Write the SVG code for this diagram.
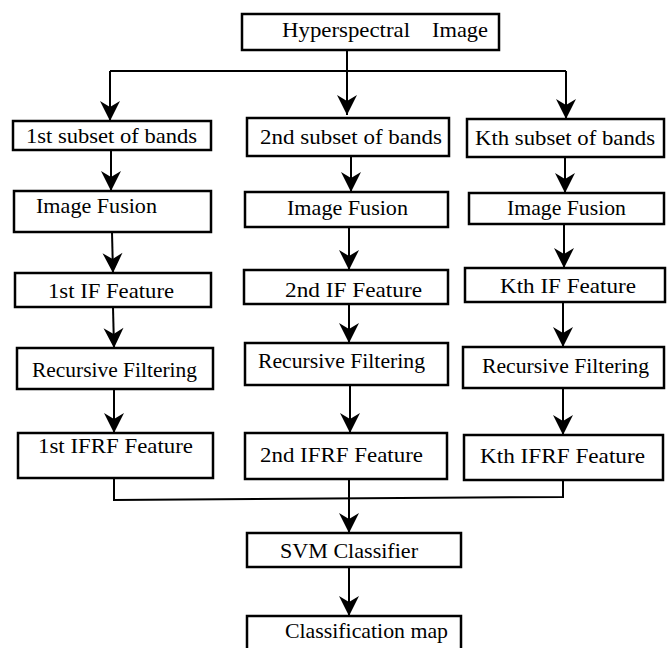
<svg xmlns="http://www.w3.org/2000/svg" width="670" height="648" viewBox="0 0 670 648">
<style>
.box{fill:#fff;stroke:#000;stroke-width:2.5}
.lbl{font-family:'Liberation Serif','Times New Roman',serif;font-size:22px;fill:#000}
.ln{fill:none;stroke:#000;stroke-width:2}
</style>
<defs>
<marker id="ah" viewBox="-21 -11 22 22" markerWidth="22" markerHeight="22" refX="0" refY="0" markerUnits="userSpaceOnUse" orient="auto">
<path d="M0,0 L-20,-10 L-14,0 L-20,10 Z" fill="#000"/>
</marker>
</defs>
<rect width="670" height="648" fill="#fff"/>
<g id="connectors">
<path class="ln" d="M347,50 V115" marker-end="url(#ah)"/>
<path class="ln" d="M110,71 H566"/>
<path class="ln" d="M110,71 V121" marker-end="url(#ah)"/>
<path class="ln" d="M566,71 V119" marker-end="url(#ah)"/>
<path class="ln" d="M111,150 V191" marker-end="url(#ah)"/>
<path class="ln" d="M112,232 L113,273" marker-end="url(#ah)"/>
<path class="ln" d="M113,307 L114,348" marker-end="url(#ah)"/>
<path class="ln" d="M114,389 V433" marker-end="url(#ah)"/>
<path class="ln" d="M351,156 V192" marker-end="url(#ah)"/>
<path class="ln" d="M349,227 V270" marker-end="url(#ah)"/>
<path class="ln" d="M349,304 V343" marker-end="url(#ah)"/>
<path class="ln" d="M350,385 V433" marker-end="url(#ah)"/>
<path class="ln" d="M565,157 V193" marker-end="url(#ah)"/>
<path class="ln" d="M564,224 V268" marker-end="url(#ah)"/>
<path class="ln" d="M563,302 V347" marker-end="url(#ah)"/>
<path class="ln" d="M563,388 V435" marker-end="url(#ah)"/>
<path class="ln" d="M114,478 V500 L563,497 V480"/>
<path class="ln" d="M349,479 V533" marker-end="url(#ah)"/>
<path class="ln" d="M349,567 V616" marker-end="url(#ah)"/>
</g>
<g id="hsi"><rect class="box" x="242" y="14" width="257" height="36"/><text class="lbl" x="282" y="37"><tspan textLength="128" lengthAdjust="spacingAndGlyphs">Hyperspectral</tspan> <tspan x="432" textLength="56" lengthAdjust="spacingAndGlyphs">Image</tspan></text></g>
<g id="sub1"><rect class="box" x="13" y="121" width="198" height="29"/><text class="lbl" x="26" y="143" textLength="171" lengthAdjust="spacingAndGlyphs">1st subset of bands</text></g>
<g id="sub2"><rect class="box" x="247" y="118" width="202" height="38"/><text class="lbl" x="260" y="144" textLength="182" lengthAdjust="spacingAndGlyphs">2nd subset of bands</text></g>
<g id="subk"><rect class="box" x="467" y="119" width="197" height="38"/><text class="lbl" x="475" y="145" textLength="180" lengthAdjust="spacingAndGlyphs">Kth subset of bands</text></g>
<g id="if1"><rect class="box" x="14" y="191" width="197" height="41"/><text class="lbl" x="36" y="213" textLength="121" lengthAdjust="spacingAndGlyphs">Image Fusion</text></g>
<g id="if2"><rect class="box" x="245" y="192" width="203" height="35"/><text class="lbl" x="287" y="215" textLength="121" lengthAdjust="spacingAndGlyphs">Image Fusion</text></g>
<g id="ifk"><rect class="box" x="469" y="193" width="195" height="31"/><text class="lbl" x="507" y="215" textLength="119" lengthAdjust="spacingAndGlyphs">Image Fusion</text></g>
<g id="feat1"><rect class="box" x="15" y="273" width="196" height="34"/><text class="lbl" x="48" y="298" textLength="126" lengthAdjust="spacingAndGlyphs">1st IF Feature</text></g>
<g id="feat2"><rect class="box" x="244" y="270" width="204" height="34"/><text class="lbl" x="285" y="297" textLength="137" lengthAdjust="spacingAndGlyphs">2nd IF Feature</text></g>
<g id="featk"><rect class="box" x="465" y="268" width="200" height="34"/><text class="lbl" x="500" y="293" textLength="136" lengthAdjust="spacingAndGlyphs">Kth IF Feature</text></g>
<g id="rf1"><rect class="box" x="17" y="348" width="196" height="41"/><text class="lbl" x="32" y="377" textLength="165" lengthAdjust="spacingAndGlyphs">Recursive Filtering</text></g>
<g id="rf2"><rect class="box" x="245" y="343" width="203" height="42"/><text class="lbl" x="258" y="368" textLength="167" lengthAdjust="spacingAndGlyphs">Recursive Filtering</text></g>
<g id="rfk"><rect class="box" x="463" y="347" width="201" height="41"/><text class="lbl" x="482" y="373" textLength="167" lengthAdjust="spacingAndGlyphs">Recursive Filtering</text></g>
<g id="ifrf1"><rect class="box" x="18" y="433" width="195" height="45"/><text class="lbl" x="38" y="453" textLength="155" lengthAdjust="spacingAndGlyphs">1st IFRF Feature</text></g>
<g id="ifrf2"><rect class="box" x="245" y="433" width="202" height="46"/><text class="lbl" x="260" y="462" textLength="163" lengthAdjust="spacingAndGlyphs">2nd IFRF Feature</text></g>
<g id="ifrfk"><rect class="box" x="464" y="435" width="199" height="45"/><text class="lbl" x="480" y="463" textLength="165" lengthAdjust="spacingAndGlyphs">Kth IFRF Feature</text></g>
<g id="svm"><rect class="box" x="247" y="533" width="214" height="34"/><text class="lbl" x="280" y="558" textLength="138" lengthAdjust="spacingAndGlyphs">SVM Classifier</text></g>
<g id="map"><rect class="box" x="247" y="616" width="214" height="44"/><text class="lbl" x="285" y="638" textLength="163" lengthAdjust="spacingAndGlyphs">Classification map</text></g>
</svg>
